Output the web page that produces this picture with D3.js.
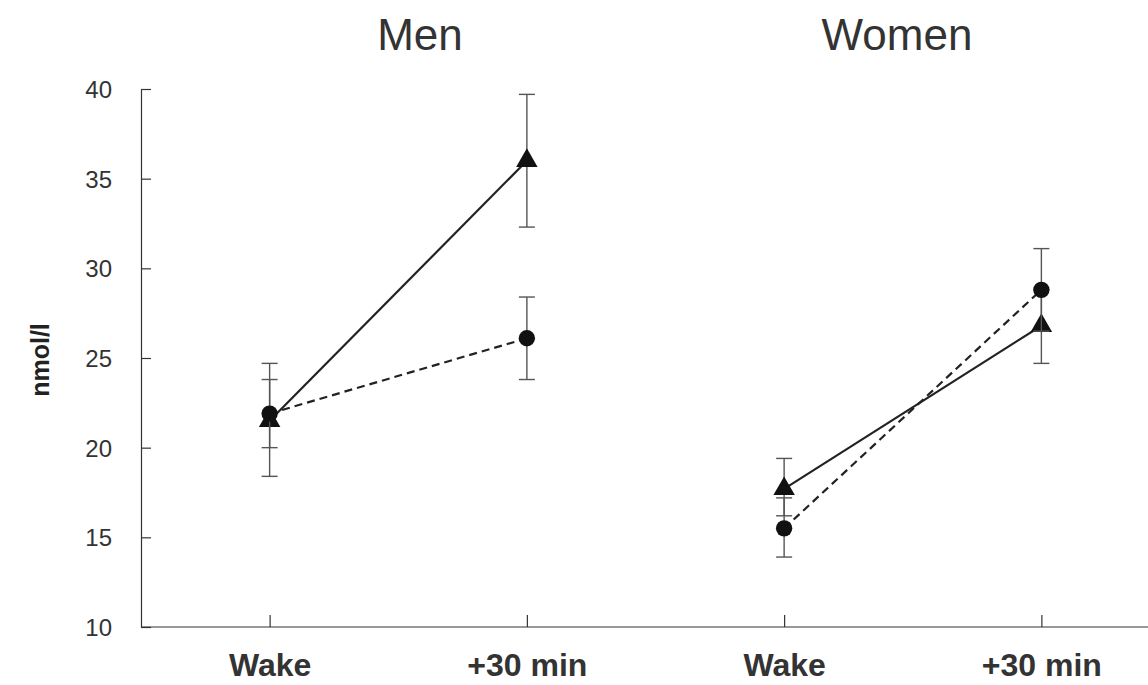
<!DOCTYPE html>
<html lang="en">
<head>
<meta charset="UTF-8">
<title>Cortisol awakening response</title>
<script src="https://d3js.org/d3.v7.min.js"></script>
<style>
  * { margin: 0; padding: 0; box-sizing: border-box; }
  body { background: #ffffff; width: 1148px; height: 685px; overflow: hidden; font-family: 'Liberation Sans', Arial, sans-serif; }
  .axis path, .axis line { stroke: #333; stroke-width: 1.2; }
  .axis text { fill: #333; }
</style>
</head>
<body>
<div id="chart"></div>
<script>
// categories along the x axis (two panels, two time points each)
const categories = ["Men|Wake", "Men|+30 min", "Women|Wake", "Women|+30 min"];
const tickLabels = ["Wake", "+30 min", "Wake", "+30 min"];
const panels = ["Men", "Women"];
const yTicks = [10, 15, 20, 25, 30, 35, 40];

// triangle series (solid line): mean, lower and upper error bar ends
const triMean = [21.5, 36.0, 17.7, 26.8];
const triLow  = [20.0, 32.3, 16.2, 24.7];
const triHigh = [23.8, 39.7, 19.4, 28.8];

// circle series (dashed line)
const circMean = [21.9, 26.1, 15.5, 28.8];
const circLow  = [18.4, 23.8, 13.9, 26.5];
const circHigh = [24.7, 28.4, 17.2, 31.1];

const W = 1148, H = 685;
const svg = d3.select("#chart").append("svg")
  .attr("width", W).attr("height", H);

const x = d3.scalePoint().domain(categories).range([141, 1170]).padding(0.5);
const y = d3.scaleLinear().domain([10, 40]).range([627, 89]);

// axes
const yAxis = svg.append("g").attr("class", "axis")
  .attr("transform", "translate(141,0)")
  .call(d3.axisRight(y).tickValues(yTicks).tickSize(10).tickSizeOuter(0).tickFormat(d3.format("d")));
yAxis.selectAll("text").attr("x", -29).attr("text-anchor", "end")
  .style("font-size", "24px").attr("dy", "0.36em");

const xAxis = svg.append("g").attr("class", "axis")
  .attr("transform", "translate(0,627)")
  .call(d3.axisTop(x).tickSize(12).tickSizeOuter(0).tickFormat((d, i) => tickLabels[i]));
xAxis.select(".domain").attr("d", "M141,0H1148");
xAxis.selectAll("text").attr("y", 49).attr("dy", 0)
  .style("font-size", "32px").style("font-weight", "bold").attr("fill", "#222");

// y axis label
svg.append("text")
  .attr("transform", "translate(49,360) rotate(-90)")
  .attr("text-anchor", "middle")
  .style("font-size", "25px").style("font-weight", "bold").attr("fill", "#222")
  .text("nmol/l");

// panel titles
const titleX = { Men: 420, Women: 897 };
svg.selectAll(".ptitle").data(panels).join("text")
  .attr("class", "ptitle")
  .attr("x", d => titleX[d]).attr("y", 50)
  .attr("text-anchor", "middle")
  .style("font-size", "44px").attr("fill", "#333")
  .text(d => d);

function drawSeries(mean, low, high, dash, shape) {
  const rows = categories.map((c, i) => ({ c, m: mean[i], lo: low[i], hi: high[i], panel: c.split("|")[0] }));
  // error bars
  const eb = svg.append("g").attr("stroke", "#555").attr("stroke-width", 1.4);
  rows.forEach(r => {
    const cx = x(r.c);
    eb.append("line").attr("x1", cx).attr("x2", cx).attr("y1", y(r.lo)).attr("y2", y(r.hi));
    eb.append("line").attr("x1", cx - 8).attr("x2", cx + 8).attr("y1", y(r.lo)).attr("y2", y(r.lo));
    eb.append("line").attr("x1", cx - 8).attr("x2", cx + 8).attr("y1", y(r.hi)).attr("y2", y(r.hi));
  });
  // connecting lines within each panel
  const line = d3.line().x(d => x(d.c)).y(d => y(d.m));
  panels.forEach(p => {
    svg.append("path")
      .datum(rows.filter(r => r.panel === p))
      .attr("d", line)
      .attr("fill", "none").attr("stroke", "#222").attr("stroke-width", 2.2)
      .attr("stroke-dasharray", dash);
  });
  // markers
  const sym = d3.symbol().type(shape).size(shape === d3.symbolCircle ? 210 : 200);
  svg.append("g").selectAll("path").data(rows).join("path")
    .attr("transform", d => `translate(${x(d.c)},${y(d.m)})`)
    .attr("d", sym).attr("fill", "#111");
}

drawSeries(triMean, triLow, triHigh, null, d3.symbolTriangle);
drawSeries(circMean, circLow, circHigh, "8,5", d3.symbolCircle);
</script>
</body>
</html>
